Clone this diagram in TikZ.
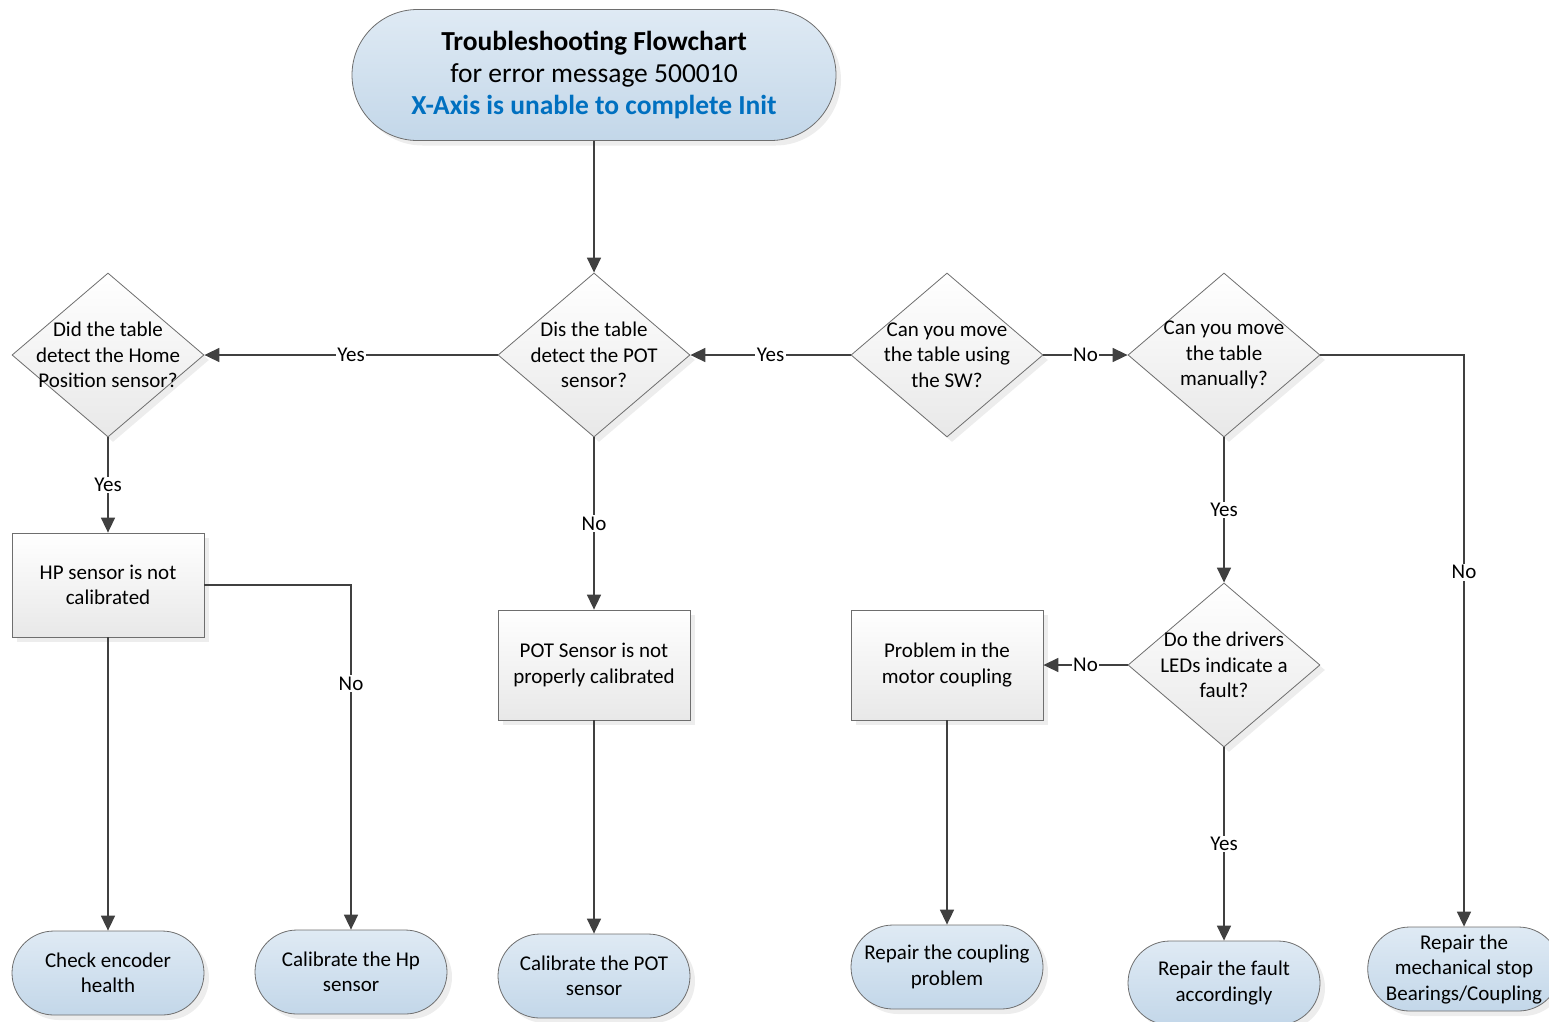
\documentclass[tikz,border=0pt]{standalone}
\usepackage{fontspec}
\setmainfont{Carlito}
\usepackage{xcolor}
\usepackage{tikz}
\usetikzlibrary{shapes.geometric, shapes.misc, arrows.meta, shadows}
\definecolor{termtop}{HTML}{DFEAF4}
\definecolor{termbot}{HTML}{C3D7E9}
\definecolor{linegray}{HTML}{404040}
\definecolor{edgegray}{HTML}{6E6E6E}
\definecolor{titleblue}{HTML}{0070C0}

\begin{document}
\begin{tikzpicture}[
    x=1pt, y=-1pt,
    font=\fontsize{21}{25.5}\selectfont,
    >={Triangle[length=15pt, width=14pt]},
    softshadow/.style={drop shadow={shadow xshift=5pt, shadow yshift=-5pt, fill=black!14}},
    term/.style={rounded rectangle, draw=edgegray, line width=0.8pt, top color=termtop, bottom color=termbot, minimum width=192pt, minimum height=84pt, inner sep=0pt, align=center, softshadow},
    proc/.style={rectangle, draw=edgegray, line width=0.8pt, top color=white, bottom color=black!9, minimum width=192pt, minimum height=110pt, inner sep=0pt, align=center, softshadow},
    decision/.style={diamond, draw=edgegray, line width=0.8pt, top color=white, bottom color=black!9, minimum width=192pt, minimum height=164pt, inner sep=0pt, softshadow, label={[align=center]center:{#1}}},
    flow/.style={->, draw=linegray, line width=1.6pt},
    lbl/.style={fill=white, inner sep=1.5pt},
]
    \useasboundingbox (0,0) rectangle (1549,1021);

    % Title
    \node[term, minimum width=484pt, minimum height=131pt, font=\fontsize{27.5}{32}\selectfont] (title) at (594,75)
        {\textbf{Troubleshooting Flowchart}\\for error message 500010\\\textcolor{titleblue}{\textbf{X-Axis is unable to complete Init}}};

    % Decisions
    \node[decision={Did the table\\detect the Home\\Position sensor?}] (homeq) at (108,355) {};
    \node[decision={Dis the table\\detect the POT\\sensor?}] (potq) at (594,355) {};
    \node[decision={Can you move\\the table using\\the SW?}] (swq) at (947,355) {};
    \node[decision={Can you move\\the table\\manually?}] (manq) at (1224,355) {};
    \node[decision={Do the drivers\\LEDs indicate a\\fault?}] (ledq) at (1224,665) {};

    % Processes
    \node[proc, minimum height=104pt] (hpbad) at (108,585) {HP sensor is not\\calibrated};
    \node[proc] (potbad) at (594,665) {POT Sensor is not\\properly calibrated};
    \node[proc] (coupbad) at (947,665) {Problem in the\\motor coupling};

    % Terminals
    \node[term] (encoder) at (108,973) {Check encoder\\health};
    \node[term] (calhp) at (351,972) {Calibrate the Hp\\sensor};
    \node[term] (calpot) at (594,976) {Calibrate the POT\\sensor};
    \node[term] (fixcoup) at (947,967) {Repair the coupling\\problem};
    \node[term] (fixfault) at (1224,983) {Repair the fault\\accordingly};
    \node[term] (fixstop) at (1464,969) {Repair the\\mechanical stop\\Bearings/Coupling};

    % Arrows
    \draw[flow] (title) -- (potq);
    \draw[flow] (swq) -- node[lbl] {Yes} (potq);
    \draw[flow] (potq) -- node[lbl] {Yes} (homeq);
    \draw[flow] (swq) -- node[lbl] {No} (manq);
    \draw[flow] (homeq) -- node[lbl] {Yes} (hpbad);
    \draw[flow] (potq) -- node[lbl] {No} (potbad);
    \draw[flow] (manq) -- node[lbl] {Yes} (ledq);
    \draw[flow] (manq.east) -| node[lbl, pos=0.69] {No} (fixstop.north);
    \draw[flow] (ledq) -- node[lbl] {No} (coupbad);
    \draw[flow] (ledq) -- node[lbl] {Yes} (fixfault);
    \draw[flow] (hpbad) -- (encoder);
    \draw[flow] (hpbad.east) -| node[lbl, pos=0.643] {No} (calhp.north);
    \draw[flow] (potbad) -- (calpot);
    \draw[flow] (coupbad) -- (fixcoup);

\end{tikzpicture}
\end{document}
